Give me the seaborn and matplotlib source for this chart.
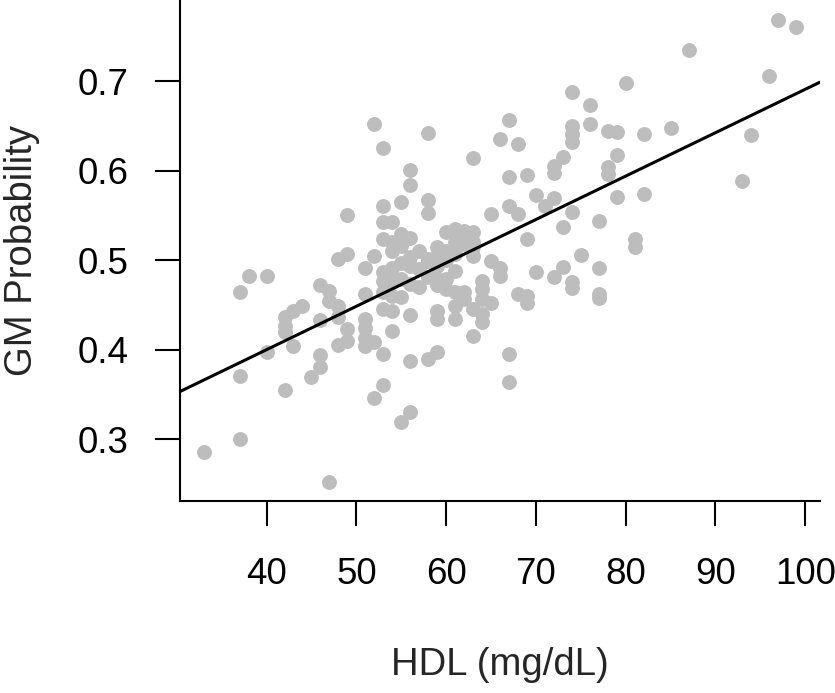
"""GM probability vs HDL scatter with fitted line"""
import pandas as pd
import seaborn as sns
from matplotlib import pyplot as plt

# ---------------
# Data
# ---------------
hdl = [
    38, 40, 37, 48, 49, 52, 51, 46, 47, 47,
    48, 44, 43, 42, 42, 42, 46, 48, 51, 53,
    54, 51, 51, 51, 51, 52, 49, 49, 48, 43,
    40, 46, 46, 45, 53, 54, 37, 42, 53, 52,
    55, 37, 33, 47,
    52, 58, 53, 67, 66, 68, 63, 56, 56, 67,
    55, 53, 58, 58, 49, 65, 67, 68, 53, 54,
    70, 72, 71, 60, 61, 62, 63, 63, 59, 60,
    61, 58, 59, 61, 63, 65, 66, 64, 64, 64,
    59, 60, 61, 62, 59, 59, 61, 61, 63, 64,
    63, 69, 70, 72, 73, 69, 69, 73,
    80, 74, 76, 74, 74, 74, 76, 78, 79, 82,
    85, 73, 72, 72, 79, 78, 78, 69, 79, 82,
    74, 77, 81, 81, 75, 77,
    74, 74, 77, 77, 66, 67, 67,
    97, 99, 87, 96, 94, 93,
    53, 54, 54, 55, 59, 68, 56, 56, 58, 59, 56,
    56, 53, 54, 56, 53, 54, 58, 58, 59, 62, 63,
    60, 62, 64, 65, 56, 53, 54, 55, 56, 55,
    55, 54, 55, 57, 57, 60, 61, 57,
]
gm_prob = [
    0.483, 0.483, 0.465, 0.502, 0.507, 0.505, 0.492, 0.473, 0.466, 0.455,
    0.449, 0.449, 0.444, 0.437, 0.427, 0.420, 0.433, 0.437, 0.462, 0.446,
    0.443, 0.435, 0.424, 0.413, 0.404, 0.409, 0.423, 0.410, 0.406, 0.404,
    0.398, 0.394, 0.381, 0.370, 0.396, 0.421, 0.371, 0.355, 0.361, 0.346,
    0.319, 0.300, 0.286, 0.252,
    0.652, 0.642, 0.626, 0.657, 0.636, 0.630, 0.614, 0.601, 0.584, 0.593,
    0.565, 0.561, 0.567, 0.553, 0.551, 0.552, 0.561, 0.552, 0.543, 0.543,
    0.573, 0.570, 0.561, 0.532, 0.535, 0.533, 0.532, 0.521, 0.515, 0.511,
    0.507, 0.499, 0.494, 0.488, 0.505, 0.499, 0.491, 0.477, 0.468, 0.457,
    0.479, 0.468, 0.465, 0.457, 0.443, 0.435, 0.449, 0.435, 0.446, 0.440,
    0.416, 0.524, 0.487, 0.482, 0.493, 0.460, 0.452, 0.537,
    0.698, 0.688, 0.674, 0.650, 0.641, 0.632, 0.652, 0.644, 0.643, 0.641,
    0.648, 0.616, 0.605, 0.598, 0.618, 0.604, 0.596, 0.595, 0.571, 0.574,
    0.554, 0.544, 0.524, 0.515, 0.506, 0.492,
    0.476, 0.469, 0.463, 0.458, 0.483, 0.395, 0.364,
    0.769, 0.761, 0.735, 0.706, 0.640, 0.589,
    0.487, 0.491, 0.483, 0.479, 0.505, 0.463, 0.439, 0.388, 0.390, 0.398, 0.331,
    0.494, 0.477, 0.476, 0.474, 0.465, 0.460, 0.502, 0.482, 0.472, 0.518, 0.515,
    0.479, 0.465, 0.431, 0.452, 0.525, 0.524, 0.521, 0.516, 0.504, 0.459,
    0.530, 0.510, 0.497, 0.510, 0.490, 0.500, 0.520, 0.470,
]

# fitted regression line
fit_intercept = 0.2064
fit_slope = 0.004847

x_ticks = [40, 50, 60, 70, 80, 90, 100]
y_ticks = [0.3, 0.4, 0.5, 0.6, 0.7]

df = pd.DataFrame({"HDL": hdl, "GM": gm_prob})

sns.set_style("ticks")
plt.rcParams['font.family'] = ['Liberation Sans', 'DejaVu Sans']

fig = plt.figure(figsize=(8.35, 6.93), dpi=100)
ax = fig.add_axes([180 / 835, 192 / 693, 640 / 835, 500 / 693])

sns.scatterplot(data=df, x="HDL", y="GM", color="#bdbdbd", s=115,
                linewidth=0, ax=ax, zorder=2)
ax.axline((0, fit_intercept), slope=fit_slope, color="black", lw=2.2, zorder=3)

ax.set_xlim(30.36, 101.64)
ax.set_ylim(0.2313, 0.7897)
ax.set_xticks(x_ticks)
ax.set_yticks(y_ticks)
ax.set_yticklabels([f"{v:.1f}" for v in y_ticks])

sns.despine(ax=ax)
for side in ["left", "bottom"]:
    ax.spines[side].set_linewidth(1.5)
    ax.spines[side].set_color("black")

ax.tick_params(axis="both", direction="out", length=18, width=1.5,
               colors="black", labelsize=26.5)
ax.tick_params(axis="x", pad=22)
ax.tick_params(axis="y", pad=19)

ax.set_xlabel("HDL (mg/dL)", fontsize=27.5)
ax.set_ylabel("GM Probability", fontsize=27.5)
ax.xaxis.set_label_coords(0.5, -0.328)
ax.xaxis.label.set_va("center")
ax.yaxis.set_label_coords(-0.247, 0.5)
ax.yaxis.label.set_va("center")

fig.savefig("out.png", dpi=100)
